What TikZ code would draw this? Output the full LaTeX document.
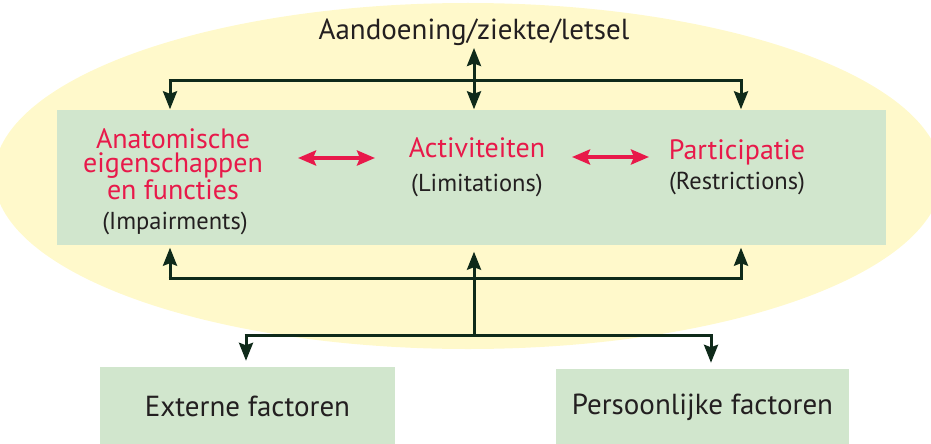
\documentclass[tikz,border=0pt]{standalone}
\usepackage{fontspec}
\setmainfont{PT Sans}
\usetikzlibrary{arrows.meta}
\definecolor{halo}{HTML}{FFF9CB}
\definecolor{panel}{HTML}{D1E6CD}
\definecolor{accent}{HTML}{E8194A}
\definecolor{ink}{HTML}{0F2A1A}
\definecolor{txt}{HTML}{231F20}
\tikzset{
  headtip/.tip={Stealth[length=18pt,width=14pt,inset=2.5pt]},
  redtip/.tip={Stealth[length=18pt,width=15pt,inset=3pt]},
  conn/.style={draw=ink, line width=3pt, -headtip},
  plainconn/.style={draw=ink, line width=3pt},
  dualconn/.style={draw=ink, line width=3pt, headtip-headtip},
  redlink/.style={draw=accent, line width=4pt, redtip-redtip},
  panelbox/.style={fill=panel, draw=none, inner sep=0pt},
  heading/.style={text=accent, font=\fontsize{28}{24}\selectfont, align=center, inner sep=0pt},
  subnote/.style={text=txt, font=\fontsize{24.5}{28}\selectfont, inner sep=0pt},
  plainlabel/.style={text=txt, font=\fontsize{29}{32}\selectfont, inner sep=0pt}
}
\begin{document}
\begin{tikzpicture}[x=1pt,y=-1pt]
\useasboundingbox (0,0) rectangle (931,444);
% background halo and central panel
\fill[halo] (468,176) ellipse [x radius=474, y radius=173];
\node[panelbox, minimum width=829pt, minimum height=135pt] (core) at (471.5,177) {};

% title
\node[plainlabel, anchor=base] (cond) at (474,40) {Aandoening/ziekte/letsel};

% three components
\node[heading, anchor=base] (anat) at (173,199) {Anatomische\\eigenschappen\\en functies};
\node[subnote, anchor=base] (imp) at (175,229) {(Impairments)};
\node[heading, anchor=base] (act) at (477,157) {Activiteiten};
\node[subnote, anchor=base] (lim) at (477,191) {(Limitations)};
\node[heading, anchor=base] (part) at (737,159) {Participatie};
\node[subnote, anchor=base] (restr) at (737,189) {(Restrictions)};

% context factors
\node[panelbox, minimum width=295pt, minimum height=79pt, font=\fontsize{29}{32}\selectfont, text=txt] (ext) at (247.5,406.5) {Externe factoren};
\node[panelbox, minimum width=293pt, minimum height=77pt, font=\fontsize{29}{32}\selectfont, text=txt] (pers) at (702.5,407.5) {Persoonlijke factoren};

% junction points
\coordinate (tt) at (474,48);
\coordinate (ta) at (170,80);
\coordinate (tc) at (741,80);
\coordinate (ba) at (170,278);
\coordinate (bc) at (741,278);
\coordinate (hub) at (474,335);
\coordinate (bl) at (246,335);
\coordinate (br) at (711,335);
\coordinate (ra1) at (298,158);
\coordinate (ra2) at (375,158);
\coordinate (rb1) at (572,157);
\coordinate (rb2) at (649,157);

% upper distribution
\draw[plainconn] ([xshift=-1.5pt]ta) -- ([xshift=1.5pt]tc);
\draw[conn] (ta) -- (ta |- core.north);
\draw[conn] (tc) -- (tc |- core.north);
\draw[dualconn] (tt) -- (tt |- core.north);

% lower distribution
\draw[plainconn] ([xshift=-1.5pt]ba) -- ([xshift=1.5pt]bc);
\draw[conn] (ba) -- ([yshift=-3pt]ba |- core.south);
\draw[conn] (bc) -- ([yshift=-3pt]bc |- core.south);
\draw[conn] (hub) -- ([yshift=-7pt]hub |- core.south);
\draw[plainconn] ([xshift=-1.5pt]bl) -- ([xshift=1.5pt]br);
\draw[conn] (bl) -- ([yshift=6pt]bl |- ext.north);
\draw[conn] (br) -- ([yshift=6pt]br |- pers.north);

% interactions between components
\draw[redlink] (ra1) -- (ra2);
\draw[redlink] (rb1) -- (rb2);
\end{tikzpicture}
\end{document}
